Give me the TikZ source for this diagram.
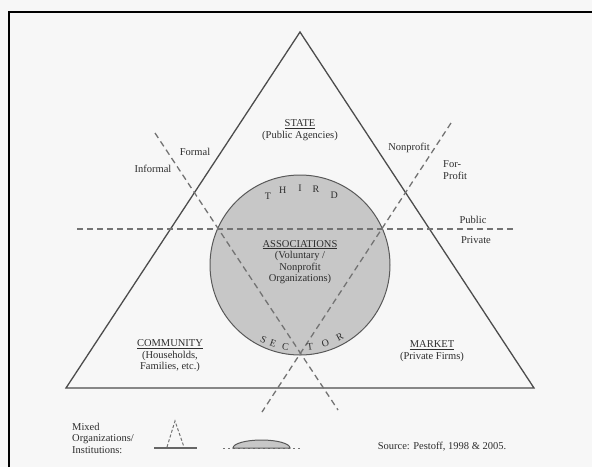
\documentclass[tikz,border=0pt]{standalone}
\usepackage{fontspec}
\setmainfont{Liberation Serif}

\begin{document}
\begin{tikzpicture}[x=1pt, y=-1pt,
	lbl/.style={font=\fontsize{10.5}{11.5}\selectfont, text=black!82, inner sep=0pt},
	letter/.style={font=\fontsize{10}{11}\selectfont, text=black!82, inner sep=0pt},
	side/.style={draw=black!70, line width=1.3pt},
	cut/.style={draw=black!55, line width=1.3pt, dash pattern=on 6pt off 4pt}]
	\useasboundingbox (0,0) rectangle (592,467);
	\fill[black!3] (0,0) rectangle (592,467);
	\draw[line width=2pt] (8.5,467) -- (8.5,11.5) -- (592,11.5);

	% the triangle and the third sector
	\draw[side] (300,32) -- (534,388) -- (66,388) -- cycle;
	\draw[draw=black!65, fill=black!22, line width=1pt] (300,265) circle (90);
	\draw[cut] (77,229) -- (515,229);
	\draw[cut] (155,133) -- (338,410);
	\draw[cut] (451,123) -- (262,412);

	\node[lbl, align=center] (state) at (300,130) {\underline{STATE}\\(Public Agencies)};
	\node[lbl, align=center] (assoc) at (300,262) {\underline{ASSOCIATIONS}\\(Voluntary /\\Nonprofit\\Organizations)};
	\node[lbl, align=center] (community) at (170,356) {\underline{COMMUNITY}\\(Households,\\Families, etc.)};
	\node[lbl, align=center] (market) at (432,351) {\underline{MARKET}\\(Private Firms)};

	\node[lbl] (formal) at (195,152) {Formal};
	\node[lbl] (informal) at (153,169) {Informal};
	\node[lbl] (nonprofit) at (409,148) {Nonprofit};
	\node[lbl, align=left, anchor=west] (forprofit) at (443,170) {For-\\Profit};
	\node[lbl] (public) at (473,220) {Public};
	\node[lbl] (private) at (476,240) {Private};

	\begin{scope}[shift={(300,265)}, y=1pt]
	\node[letter] (thirdT) at (115:76) {T};
	\node[letter] (thirdH) at (103:77) {H};
	\node[letter] (thirdI) at (90:77) {I};
	\node[letter] (thirdR) at (78:77) {R};
	\node[letter] (thirdD) at (64:78) {D};
	\node[letter, rotate=-26] (sectorS) at (244:83) {S};
	\node[letter, rotate=-19] (sectorE) at (251:83) {E};
	\node[letter, rotate=-10] (sectorC) at (260:83) {C};
	\node[letter, rotate=7] (sectorT) at (277:82) {T};
	\node[letter, rotate=17] (sectorO) at (288:82) {O};
	\node[letter, rotate=28] (sectorR) at (299:82) {R};
	\end{scope}

	% legend
	\node[lbl, align=left, anchor=west] (mixed) at (72,438) {Mixed\\Organizations/\\Institutions:};
	\draw[black!60, line width=1.5pt] (154,448) -- (197,448);
	\draw[cut, line width=1pt, dash pattern=on 3pt off 2pt] (167,447) -- (175,421) -- (184,447);
	\draw[black!55, line width=1pt, dash pattern=on 2pt off 3pt] (223,448) -- (302,448);
	\draw[draw=black!65, fill=black!22, line width=1pt] (233,448) arc[start angle=180, end angle=360, x radius=28.5, y radius=8] -- cycle;
	\node[lbl] (source) at (442,447) {Source: Pestoff, 1998 \& 2005.};
\end{tikzpicture}
\end{document}
